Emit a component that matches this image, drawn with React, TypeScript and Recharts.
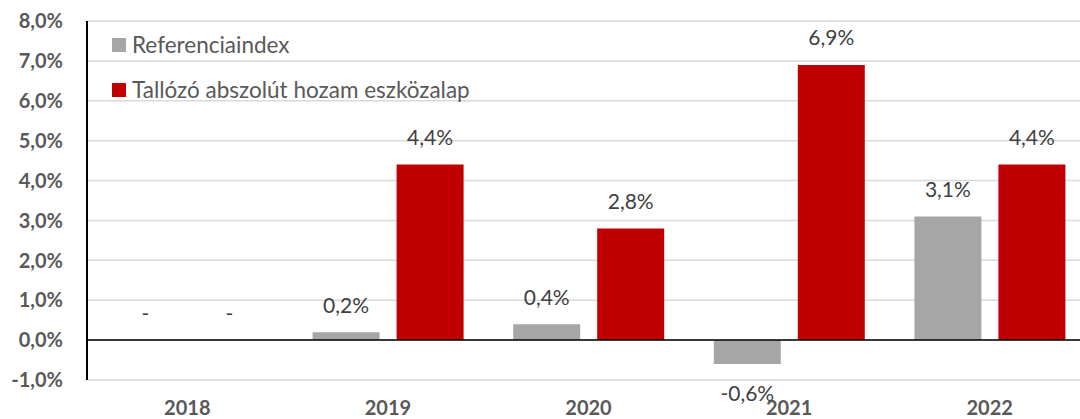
import React from "react";
import { BarChart, Bar, XAxis, YAxis, CartesianGrid, ReferenceLine, Legend, LabelList } from "recharts";

const years = ["2018", "2019", "2020", "2021", "2022"];
const referenciaindex = [0, 0.2, 0.4, -0.6, 3.1];
const tallozo = [0, 4.4, 2.8, 6.9, 4.4];
const yTicks = [-1, 0, 1, 2, 3, 4, 5, 6, 7, 8];
const seriesNames = ["Referenciaindex", "Tallózó abszolút hozam eszközalap"];
const colors = ["#A6A6A6", "#C00000"];

const data = years.map((y, i) => ({ year: y, refIdx: referenciaindex[i], fund: tallozo[i] }));

const FONT = "Lato, 'Open Sans', sans-serif";
const fmt = (v: number) => `${v.toFixed(1).replace(".", ",")}%`;

const YTick = (props: any) => {
  const { y, payload } = props;
  return (
    <text x={63} y={y} dy="0.36em" textAnchor="end" fontFamily={FONT} fontWeight={700} fontSize={20} fill="#595959">
      {fmt(payload.value)}
    </text>
  );
};

const XTick = (props: any) => {
  const { x, payload } = props;
  return (
    <text x={x} y={415} textAnchor="middle" fontFamily={FONT} fontWeight={700} fontSize={20} fill="#595959">
      {payload.value}
    </text>
  );
};

const BarLabel = (props: any) => {
  const { x, y, width, height, value } = props;
  const top = Math.min(y, y + height);
  const bottom = Math.max(y, y + height);
  const cx = x + width / 2;
  const neg = value < 0;
  const cy = neg ? bottom + 29 : top - 27;
  return (
    <text x={cx} y={cy} dy="0.36em" textAnchor="middle" fontFamily={FONT} fontSize={21} fill="#404040">
      {value === 0 ? "-" : fmt(value)}
    </text>
  );
};

const LegendContent = () => (
  <div style={{ fontFamily: FONT, fontSize: 22.5, color: "#595959" }}>
    {seriesNames.map((n, i) => (
      <div key={n} style={{ display: "flex", alignItems: "center", height: 45 }}>
        <span style={{ display: "inline-block", width: 14, height: 14, background: colors[i], marginRight: 6 }} />
        <span>{n}</span>
      </div>
    ))}
  </div>
);

const tinyForZero = (value: any) => (value === 0 ? 0.01 : 0);

export default function App() {
  return (
    <div style={{ position: "fixed", left: 0, top: 0, width: 1080, height: 419, overflow: "hidden", background: "#fff" }}>
      <BarChart
        width={1092}
        height={419}
        data={data}
        margin={{ top: 21, right: 2, bottom: 0, left: 0 }}
        barCategoryGap={25}
        barGap={17}
      >
        <CartesianGrid horizontal vertical={false} stroke="#D9D9D9" strokeWidth={1.5} />
        <XAxis dataKey="year" height={39} axisLine={false} tickLine={false} tick={<XTick />} interval={0} />
        <YAxis
          width={87}
          domain={[-1, 8]}
          ticks={yTicks}
          interval={0}
          axisLine={{ stroke: "#000", strokeWidth: 2 }}
          tickLine={false}
          tick={<YTick />}
        />
        <Legend
          layout="vertical"
          verticalAlign="middle"
          align="center"
          content={<LegendContent />}
          wrapperStyle={{ position: "absolute", left: 112, top: 22, width: 500, height: 90 }}
        />
        <Bar dataKey="refIdx" name={seriesNames[0]} fill={colors[0]} isAnimationActive={false} minPointSize={tinyForZero}>
          <LabelList dataKey="refIdx" content={<BarLabel />} />
        </Bar>
        <Bar dataKey="fund" name={seriesNames[1]} fill={colors[1]} isAnimationActive={false} minPointSize={tinyForZero}>
          <LabelList dataKey="fund" content={<BarLabel />} />
        </Bar>
        <ReferenceLine y={0} stroke="#000" strokeWidth={1.5} />
      </BarChart>
    </div>
  );
}
